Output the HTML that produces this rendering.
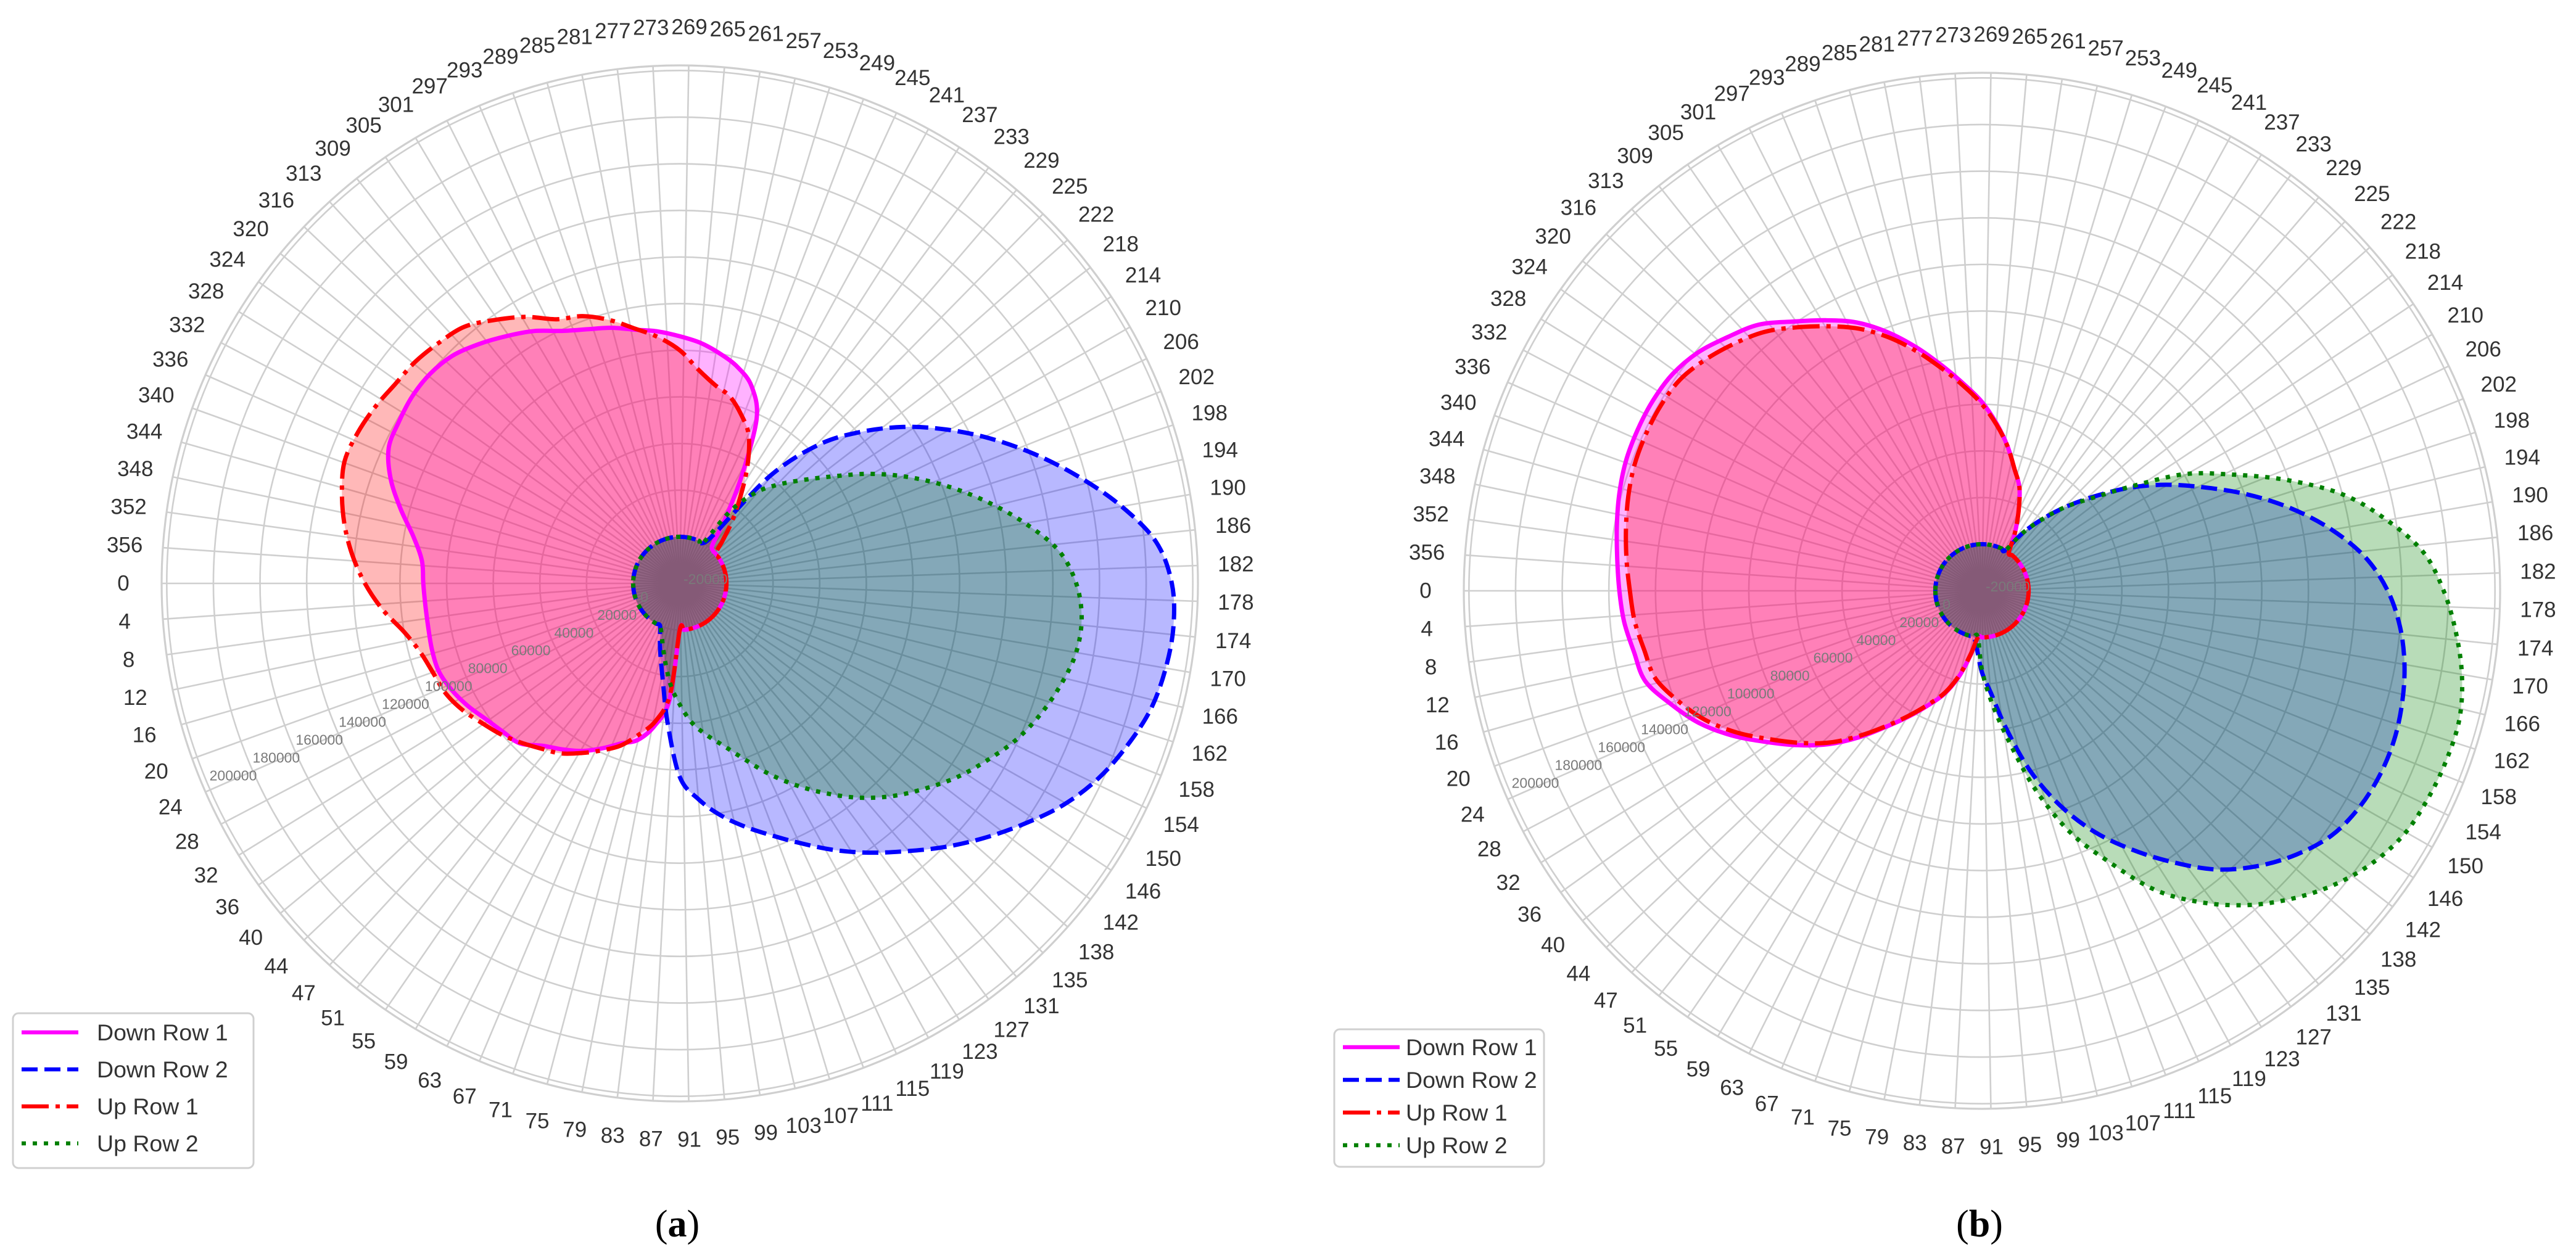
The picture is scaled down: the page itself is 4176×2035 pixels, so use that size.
<!DOCTYPE html>
<html>
<head>
<meta charset="utf-8">
<style>
  html, body { margin:0; padding:0; background:#fff; }
  svg { display:block; }
  text { font-family: "Liberation Sans", "DejaVu Sans", sans-serif; }
</style>
</head>
<body>
<svg id="root" xmlns="http://www.w3.org/2000/svg" width="4176" height="2035" viewBox="0 0 4176 2035">
  <rect x="0" y="0" width="4176" height="2035" fill="#ffffff"/>
</svg>
<script>
// ---- data ----
const sampleAngles = [0,5,10,15,20,25,30,35,40,45,50,55,60,65,70,75,80,85,
  90,95,100,105,110,115,120,125,130,135,140,145,150,155,160,165,170,175,
  180,185,190,195,200,205,210,215,220,225,230,235,240,245,250,255,260,265,
  270,275,280,285,290,295,300,305,310,315,320,325,330,335,340,345,350,355];

const angleTickLabels = [0,4,8,12,16,20,24,28,32,36,40,44,47,51,55,59,63,67,71,75,79,83,87,91,95,99,103,107,111,115,119,123,127,131,135,138,142,146,150,154,158,162,166,170,174,178,182,186,190,194,198,202,206,210,214,218,222,225,229,233,237,241,245,249,253,257,261,265,269,273,277,281,285,289,293,297,301,305,309,313,316,320,324,328,332,336,340,344,348,352,356];

const radialTickValues = [-20000,0,20000,40000,60000,80000,100000,120000,140000,160000,180000,200000];

const seriesNames = ["Down Row 1","Down Row 2","Up Row 1","Up Row 2"];

// chart (a)
const aDownRow1 = [90000,89500,89500,90000,90000,88000,85000,81500,79000,77000,71000,67000,63000,58000,53000,49500,42000,30000,
  0,0,0,0,0,0,0,0,0,0,0,0,0,0,0,0,0,0,
  0,0,0,0,0,0,0,0,0,0,2000,14000,33000,58000,70000,76000,80000,83500,
  86000,88500,90500,93500,96000,99500,105000,109500,114000,118000,119800,120000,119000,117700,112000,104000,96000,91000];
const aDownRow2 = [0,0,0,0,0,0,0,0,0,0,0,0,0,0,5000,12000,22000,40000,
  63000,73000,81000,88000,95000,103000,112000,121000,130000,140000,150000,160000,170000,178000,184000,189000,191500,192500,
  191000,185000,172000,157000,142000,127000,112000,97000,81000,64000,40000,6000,0,0,0,0,0,0,
  0,0,0,0,0,0,0,0,0,0,0,0,0,0,0,0,0,0];
const aUpRow1 = [115000,108000,100000,95000,92500,91000,88000,84000,80500,76500,72500,69000,64000,59000,54000,47000,40000,28000,
  0,0,0,0,0,0,0,0,0,0,0,0,0,0,0,0,0,0,
  0,0,0,0,0,0,0,0,0,6000,15000,25300,38000,50000,57000,63000,66500,72000,
  80000,86000,91000,97000,102000,105000,112000,118000,123700,126000,128000,129000,131000,132500,133000,130000,126000,121000];
const aUpRow2 = [0,0,0,0,0,0,0,0,0,0,0,0,0,0,3000,8000,15000,24000,
  32000,40000,46000,52000,60000,70000,80000,90000,100000,109000,117000,125000,132000,139000,144500,149000,152500,153000,
  150000,143000,130000,116000,102000,88000,74000,60000,49000,40000,31000,18000,0,0,0,0,0,0,
  0,0,0,0,0,0,0,0,0,0,0,0,0,0,0,0,0,0];

// chart (b)
const bDownRow1 = [135500,134000,131500,129500,122000,114000,104000,93000,83000,73000,62000,51000,42000,34000,27000,18000,8000,0,
  0,0,0,0,0,0,0,0,0,0,0,0,0,0,0,0,0,0,
  0,0,0,0,0,0,0,0,0,0,0,0,8000,17000,27000,34000,43000,52000,
  61000,69000,78000,88000,98000,107000,114000,121000,129000,134000,139000,142000,143000,143000,142500,141000,139000,137000];
const bDownRow2 = [0,0,0,0,0,0,0,0,0,0,0,0,0,0,0,0,0,5000,
  15000,24000,40000,60000,78000,94000,108000,122000,136000,147000,156000,163000,166500,168000,168000,166500,164000,160000,
  154000,145000,132000,117000,101000,85000,71000,57000,43000,31000,20000,10000,0,0,0,0,0,0,
  0,0,0,0,0,0,0,0,0,0,0,0,0,0,0,0,0,0];
const bUpRow1 = [131000,129500,127000,125000,118500,111000,101500,91000,81500,72000,61000,50500,41500,33500,26500,17500,7500,0,
  0,0,0,0,0,0,0,0,0,0,0,0,0,0,0,0,0,0,
  0,0,0,0,0,0,0,0,0,0,0,0,8000,17000,27000,34000,43000,51500,
  60000,68000,76500,86000,95500,104000,111000,118000,125000,130000,134500,138000,139000,139000,138500,137000,135000,133000];
const bUpRow2 = [0,0,0,0,0,0,0,0,0,0,0,0,0,0,0,0,0,0,
  14000,28000,45000,68000,90000,108000,128000,143000,156000,167000,176500,184000,189000,191000,192000,192000,189000,184000,
  178000,170000,156000,140000,119000,98000,80000,58000,42000,31000,20000,10000,0,0,0,0,0,0,
  0,0,0,0,0,0,0,0,0,0,0,0,0,0,0,0,0,0];

// ---- rendering ----
const NS = "http://www.w3.org/2000/svg";
const root = document.getElementById("root");
const R_MIN = -20000, R_MAX = 202200, R_PX = 840;
const STYLES = [
  {color:"#ff00ff", dash:"", fill:"rgba(255,0,255,0.3)"},
  {color:"#0000ff", dash:"26 11", fill:"rgba(0,0,255,0.28)"},
  {color:"#ff0000", dash:"44 11 7 11", fill:"rgba(255,0,0,0.28)"},
  {color:"#008000", dash:"7 11", fill:"rgba(0,128,0,0.28)"}
];

function el(tag, attrs, parent) {
  const e = document.createElementNS(NS, tag);
  for (const k in attrs) e.setAttribute(k, attrs[k]);
  (parent || root).appendChild(e);
  return e;
}
function rScale(v) { return (Math.max(v, R_MIN) - R_MIN) / (R_MAX - R_MIN) * R_PX; }
function polar(cx, cy, thetaDeg, r) {
  const t = thetaDeg * Math.PI / 180;
  return [cx - r * Math.cos(t), cy + r * Math.sin(t)];
}
function smoothClosed(pts) {
  const n = pts.length;
  let d = "M" + pts[0][0].toFixed(1) + "," + pts[0][1].toFixed(1);
  for (let i = 0; i < n; i++) {
    const p0 = pts[(i - 1 + n) % n], p1 = pts[i], p2 = pts[(i + 1) % n], p3 = pts[(i + 2) % n];
    const c1 = [p1[0] + (p2[0] - p0[0]) / 6, p1[1] + (p2[1] - p0[1]) / 6];
    const c2 = [p2[0] - (p3[0] - p1[0]) / 6, p2[1] - (p3[1] - p1[1]) / 6];
    d += "C" + c1[0].toFixed(1) + "," + c1[1].toFixed(1) + " " + c2[0].toFixed(1) + "," + c2[1].toFixed(1) + " " + p2[0].toFixed(1) + "," + p2[1].toFixed(1);
  }
  return d + "Z";
}

function drawChart(key, cx, cy, series, legendBox, title) {
  const g = el("g", {});
  
  

  const gridG = el("g", {}, g);
  
  
  radialTickValues.forEach(v => {
    const r = rScale(v);
    if (r < 1) return;
    const c = el("circle", {cx:cx, cy:cy, r:r, fill:"none", stroke:"#cfcfcf", "stroke-width":2.6}, gridG);
    
    
  });
  angleTickLabels.forEach((lab, i) => {
    const th = i * 360 / angleTickLabels.length;
    const p = polar(cx, cy, th, R_PX);
    const l = el("line", {x1:cx, y1:cy, x2:p[0], y2:p[1], stroke:"#cfcfcf", "stroke-width":2.6}, gridG);
    
    
  });
  const sp = el("circle", {cx:cx, cy:cy, r:R_PX, fill:"none", stroke:"#cfcfcf", "stroke-width":3.2}, g);
  
  

  series.forEach((vals, si) => {
    const pts = vals.map((v, i) => polar(cx, cy, sampleAngles[i], Math.max(rScale(v), rScale(0))));
    const d = smoothClosed(pts);
    const f = el("path", {d:d, fill:STYLES[si].fill, stroke:"none"}, g);
    
    
  });
  series.forEach((vals, si) => {
    const pts = vals.map((v, i) => polar(cx, cy, sampleAngles[i], Math.max(rScale(v), rScale(0))));
    const d = smoothClosed(pts);
    const attrs = {d:d, fill:"none", stroke:STYLES[si].color, "stroke-width":7, "stroke-linejoin":"round"};
    if (STYLES[si].dash) attrs["stroke-dasharray"] = STYLES[si].dash;
    const l = el("path", attrs, g);
    
    
  });

  radialTickValues.forEach(v => {
    const p = polar(cx, cy, 22.5, rScale(v));
    const t = el("text", {x:p[0] + 6, y:p[1] - 7, "font-size":23, fill:"#7a7a7a", "dominant-baseline":"central"}, g);
    t.textContent = String(v);
    
    
  });
  angleTickLabels.forEach((lab, i) => {
    const th = i * 360 / angleTickLabels.length;
    const p = polar(cx, cy, th, 902);
    const t = el("text", {x:p[0], y:p[1], "font-size":35, fill:"#333", "text-anchor":"middle", "dominant-baseline":"central"}, g);
    t.textContent = String(lab);
    
    
  });

  const lg = el("g", {}, g);
  
  
  const box = el("rect", {x:legendBox.x, y:legendBox.y, width:legendBox.w, height:legendBox.h, rx:9, fill:"#fff", "fill-opacity":0.85, stroke:"#d0d0d0", "stroke-width":3}, lg);
  
  
  seriesNames.forEach((nm, si) => {
    const y = legendBox.y + legendBox.row0 + si * legendBox.step;
    const la = {x1:legendBox.x + 14, y1:y, x2:legendBox.x + 14 + 92, y2:y, stroke:STYLES[si].color, "stroke-width":6.5};
    if (STYLES[si].dash) la["stroke-dasharray"] = STYLES[si].dash;
    const l = el("line", la, lg);
    
    
    const t = el("text", {x:legendBox.x + legendBox.tx, y:y, "font-size":37.5, fill:"#333", "dominant-baseline":"central"}, lg);
    t.textContent = nm;
    
    
  });

  const tt = el("text", {x:cx - 4, y:2005, "font-size":62, fill:"#000", "text-anchor":"middle", style:"font-family:'Liberation Serif',serif"}, g);
  
  
  const s1 = el("tspan", {}, tt); s1.textContent = "(";
  const s2 = el("tspan", {"font-weight":"bold"}, tt); s2.textContent = title;
  const s3 = el("tspan", {}, tt); s3.textContent = ")";
}

drawChart("a", 1102, 946, [aDownRow1, aDownRow2, aUpRow1, aUpRow2],
  {x:21, y:1643, w:390, h:251, row0:31, step:60, tx:136}, "a");
drawChart("b", 3213, 958, [bDownRow1, bDownRow2, bUpRow1, bUpRow2],
  {x:2163, y:1669, w:340, h:223, row0:29, step:53, tx:116}, "b");
</script>
</body>
</html>
